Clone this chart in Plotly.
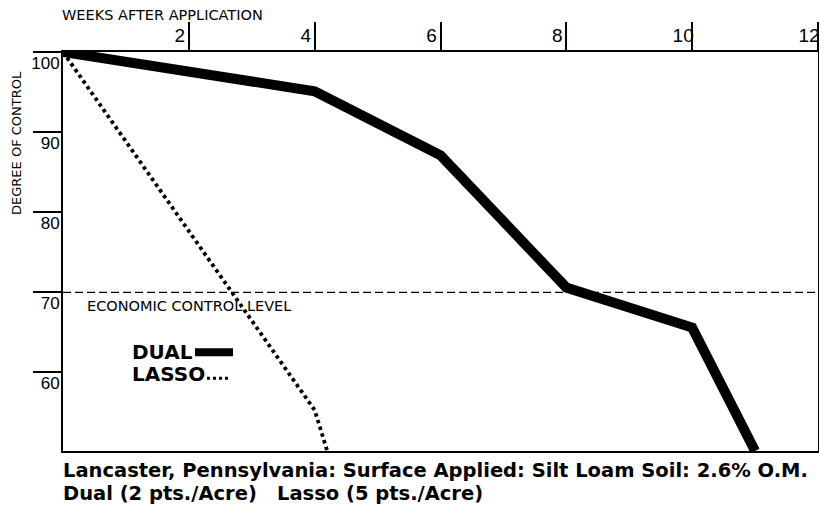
import plotly.graph_objects as go

# ---- data ----
weeks_dual = [0, 4, 6, 8, 10, 11.0]
control_dual = [100, 95.1, 87.1, 70.6, 65.6, 50.2]
weeks_lasso = [0, 4, 4.2]
control_lasso = [100, 55.3, 50.2]
econ_level = 70
x_ticks = [2, 4, 6, 8, 10, 12]
y_ticks = [60, 70, 80, 90, 100]

FONT = "Liberation Sans"
WIDE = "DejaVu Sans"

fig = go.Figure()
fig.add_trace(go.Scatter(x=weeks_dual, y=control_dual, mode="lines",
                         line=dict(color="black", width=10), name="DUAL",
                         showlegend=False))
fig.add_trace(go.Scatter(x=weeks_lasso, y=control_lasso, mode="lines",
                         line=dict(color="black", width=3.8, dash="3.5px,3.5px"),
                         name="LASSO", showlegend=False))

# economic control level
fig.add_shape(type="line", xref="paper", x0=0, x1=1, yref="y", y0=econ_level, y1=econ_level,
              line=dict(color="black", width=1.3, dash="8px,4px"))

fig.update_xaxes(side="top", range=[0, 12], tickvals=x_ticks, ticktext=[str(v) for v in x_ticks],
                 ticks="outside", ticklen=28, tickwidth=1.5, tickcolor="black",
                 ticklabelshift=-9, ticklabelstandoff=-27, automargin=False,
                 ticklabeloverflow="allow",
                 showline=True, linecolor="black", linewidth=1.5, mirror=True,
                 showgrid=False, zeroline=False,
                 tickfont=dict(family=FONT, size=19, color="black"))
fig.update_yaxes(range=[50.2, 100], tickvals=y_ticks, ticktext=[str(v) for v in y_ticks],
                 ticks="outside", ticklen=28, tickwidth=1.5, tickcolor="black",
                 ticklabelshift=11, ticklabelstandoff=-30, automargin=False,
                 ticklabeloverflow="allow",
                 showline=True, linecolor="black", linewidth=2, mirror=True,
                 showgrid=False, zeroline=False,
                 tickfont=dict(family=FONT, size=17, color="black"))

ann = []
ann.append(dict(text="WEEKS AFTER APPLICATION", xref="paper", yref="paper", x=-0.004, y=1.0928,
                xanchor="left", yanchor="middle", showarrow=False,
                font=dict(family=WIDE, size=14.5, color="black")))
ann.append(dict(text="DEGREE OF CONTROL", xref="paper", yref="paper", x=-0.0609, y=0.772,
                xanchor="center", yanchor="middle", textangle=-90, showarrow=False,
                font=dict(family=WIDE, size=13, color="black")))
ann.append(dict(text="ECONOMIC CONTROL LEVEL", xref="paper", yref="paper", x=0.029, y=0.363,
                xanchor="left", yanchor="middle", showarrow=False,
                font=dict(family=WIDE, size=14.5, color="black")))
ann.append(dict(text="<b>DUAL</b>", xref="paper", yref="paper", x=0.0887, y=0.2476,
                xanchor="left", yanchor="middle", showarrow=False,
                font=dict(family=WIDE, size=20, color="black")))
ann.append(dict(text="<b>LASSO</b>", xref="paper", yref="paper", x=0.0887, y=0.1924,
                xanchor="left", yanchor="middle", showarrow=False,
                font=dict(family=WIDE, size=20, color="black")))
ann.append(dict(text="<b>Lancaster, Pennsylvania: Surface Applied: Silt Loam Soil: 2.6% O.M.</b>",
                xref="paper", yref="paper", x=-0.003, y=-0.0484,
                xanchor="left", yanchor="middle", showarrow=False,
                font=dict(family=WIDE, size=19.5, color="black")))
ann.append(dict(text="<b>Dual (2 pts./Acre)</b>", xref="paper", yref="paper", x=-0.003, y=-0.106,
                xanchor="left", yanchor="middle", showarrow=False,
                font=dict(family=WIDE, size=19.5, color="black")))
ann.append(dict(text="<b>Lasso (5 pts./Acre)</b>", xref="paper", yref="paper", x=0.281, y=-0.106,
                xanchor="left", yanchor="middle", showarrow=False,
                font=dict(family=WIDE, size=19.5, color="black")))
fig.update_layout(annotations=ann)

# legend samples
fig.add_shape(type="line", xref="paper", yref="paper", x0=0.1748, x1=0.2252, y0=0.2476, y1=0.2476,
              line=dict(color="black", width=8))
fig.add_shape(type="line", xref="paper", yref="paper", x0=0.1907, x1=0.2212, y0=0.1823, y1=0.1823,
              line=dict(color="black", width=3, dash="3px,3px"))

fig.update_layout(width=819, height=511, margin=dict(l=63, r=1, t=52, b=60, autoexpand=False),
                  paper_bgcolor="white", plot_bgcolor="white", showlegend=False)

fig.write_html("out.html", config={"displayModeBar": False},
               post_script="document.body.style.margin='0';document.body.style.overflow='hidden';")
